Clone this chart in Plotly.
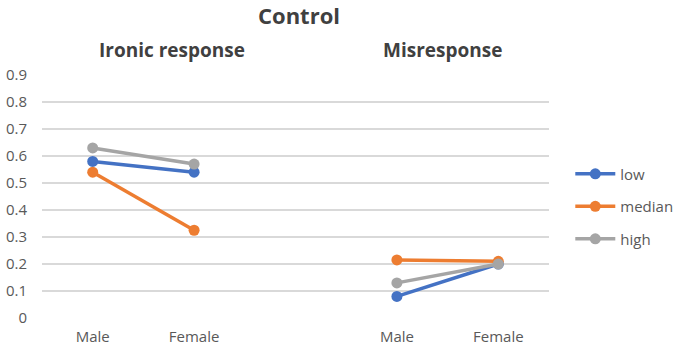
import plotly.graph_objects as go

categories = ["Male", "Female", "", "Male", "Female"]
series_names = ["low", "median", "high"]
low_vals = [0.58, 0.54, None, 0.08, 0.20]
median_vals = [0.54, 0.325, None, 0.215, 0.21]
high_vals = [0.63, 0.57, None, 0.13, 0.20]
y_ticks = [0, 0.1, 0.2, 0.3, 0.4, 0.5, 0.6, 0.7, 0.8, 0.9]
y_tick_text = ["0", "0.1", "0.2", "0.3", "0.4", "0.5", "0.6", "0.7", "0.8", "0.9"]
colors = ["#4472C4", "#ED7D31", "#A5A5A5"]

x_idx = list(range(len(categories)))
FONT = "Open Sans"

W, H = 680, 348
ML, MR, MT, MB = 42, 131, 75, 30

fig = go.Figure()
for i, (name, vals) in enumerate(zip(series_names, [low_vals, median_vals, high_vals])):
    fig.add_trace(go.Scatter(
        x=x_idx, y=vals, name=name, mode="lines+markers",
        line=dict(color=colors[i], width=3.5),
        marker=dict(color=colors[i], size=11),
        connectgaps=False, legendgroup=name,
    ))

fig.update_layout(
    width=W, height=H,
    margin=dict(l=ML, r=MR, t=MT, b=MB, autoexpand=False),
    paper_bgcolor="white", plot_bgcolor="white",
    font=dict(family=FONT, size=15, color="#595959"),
    xaxis=dict(
        tickmode="array", tickvals=[0, 1, 3, 4],
        ticktext=[categories[i] for i in [0, 1, 3, 4]],
        range=[-0.5, 4.5], showgrid=False, zeroline=False,
        showline=False, ticks="", ticklen=0, automargin=False,
        ticklabelstandoff=8,
        tickfont=dict(size=15, color="#595959"),
    ),
    yaxis=dict(
        tickmode="array", tickvals=y_ticks, ticktext=y_tick_text,
        range=[0, 0.9], showgrid=True, gridcolor="#D9D9D9", gridwidth=1.5,
        zeroline=False, showline=False, ticks="", automargin=False,
        ticklabelstandoff=14,
        tickfont=dict(size=15, color="#595959"),
    ),
    legend=dict(
        x=1.042, y=0.66, xanchor="left", yanchor="top",
        font=dict(size=15, color="#595959"),
        tracegroupgap=10, itemwidth=40,
        bgcolor="rgba(0,0,0,0)",
    ),
    showlegend=True,
    annotations=[
        dict(text="<b>Control</b>", x=299, y=15, showarrow=False,
             font=dict(size=22, color="#404040", family=FONT)),
        dict(text="<b>Ironic response</b>", x=172, y=50, showarrow=False,
             font=dict(size=19, color="#404040", family=FONT)),
        dict(text="<b>Misresponse</b>", x=442, y=50, showarrow=False,
             font=dict(size=19, color="#404040", family=FONT)),
    ],
)

# convert pixel-placed annotation positions to paper coords
pw = W - ML - MR
ph = H - MT - MB
for a in fig.layout.annotations:
    px, py = a.x, a.y
    a.xref = "paper"; a.yref = "paper"
    a.x = (px - ML) / pw
    a.y = (H - MB - py) / ph
    a.xanchor = "center"; a.yanchor = "middle"

fig.write_html("out.html", config={"displayModeBar": False},
               post_script="document.body.style.margin='0';document.body.style.overflow='hidden';")
